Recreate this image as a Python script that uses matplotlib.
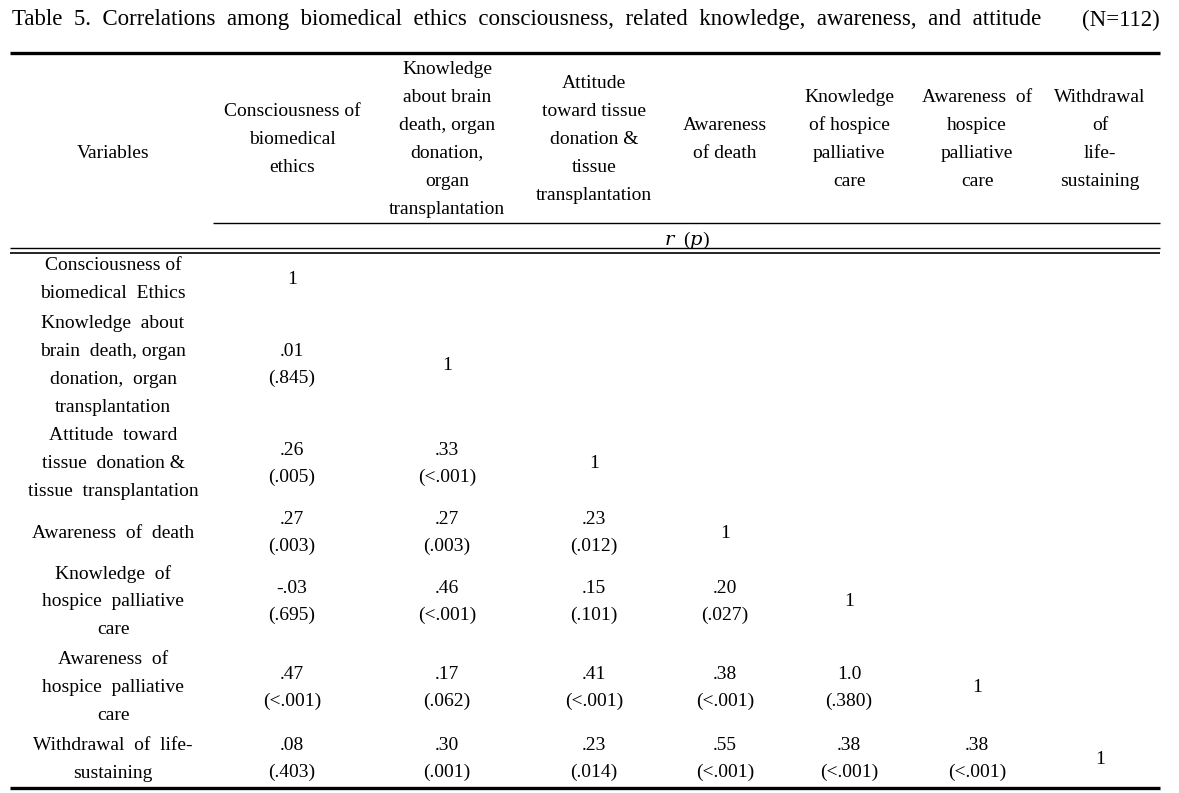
import matplotlib
matplotlib.use("Agg")
import matplotlib.pyplot as plt

plt.rcParams['font.family'] = ['Liberation Serif', 'DejaVu Serif']

title_words = ["Table", "5.", "Correlations", "among", "biomedical", "ethics", "consciousness,",
               "related", "knowledge,", "awareness,", "and", "attitude"]
title_n = "(N=112)"

col_headers = [
    ["Consciousness of", "biomedical", "ethics"],
    ["Knowledge", "about brain", "death, organ", "donation,", "organ", "transplantation"],
    ["Attitude", "toward tissue", "donation &", "tissue", "transplantation"],
    ["Awareness", "of death"],
    ["Knowledge", "of hospice", "palliative", "care"],
    ["Awareness  of", "hospice", "palliative", "care"],
    ["Withdrawal", "of", "life-", "sustaining"],
]

row_labels = [
    ["Consciousness of", "biomedical  Ethics"],
    ["Knowledge  about", "brain  death, organ", "donation,  organ", "transplantation"],
    ["Attitude  toward", "tissue  donation &", "tissue  transplantation"],
    ["Awareness  of  death"],
    ["Knowledge  of", "hospice  palliative", "care"],
    ["Awareness  of", "hospice  palliative", "care"],
    ["Withdrawal  of  life-", "sustaining"],
]

r_values = [
    [],
    [".01"],
    [".26", ".33"],
    [".27", ".27", ".23"],
    ["-.03", ".46", ".15", ".20"],
    [".47", ".17", ".41", ".38", "1.0"],
    [".08", ".30", ".23", ".55", ".38", ".38"],
]
p_values = [
    [],
    ["(.845)"],
    ["(.005)", "(<.001)"],
    ["(.003)", "(.003)", "(.012)"],
    ["(.695)", "(<.001)", "(.101)", "(.027)"],
    ["(<.001)", "(.062)", "(<.001)", "(<.001)", "(.380)"],
    ["(.403)", "(.001)", "(.014)", "(<.001)", "(<.001)", "(<.001)"],
]

W, H = 1179, 793
fig = plt.figure(figsize=(W / 100, H / 100), dpi=100)
ax = fig.add_axes([0, 0, 1, 1])
ax.set_xlim(0, W)
ax.set_ylim(H, 0)
ax.axis('off')

FS = 14
LH = 28

# layout
var_x = 113
col_x = [292, 447, 594, 725, 849, 977, 1100]
row_center = [280, 365, 464, 533, 602, 688, 759]
val_offset = 13.5

ax.text(12, 20, "  ".join(title_words), fontsize=16.5, ha='left', va='center')
ax.text(1160, 20, title_n, fontsize=16.5, ha='right', va='center')

# rules
ax.plot([10, 1160], [53, 53], color='black', lw=2.4, solid_capstyle='butt')
ax.plot([213, 1160], [223, 223], color='black', lw=1.0, solid_capstyle='butt')
ax.plot([10, 1160], [248, 248], color='black', lw=1.0, solid_capstyle='butt')
ax.plot([10, 1160], [252.5, 252.5], color='black', lw=1.2, solid_capstyle='butt')
ax.plot([10, 1160], [788, 788], color='black', lw=2.4, solid_capstyle='butt')

# header
ax.text(var_x, 153, "Variables", fontsize=FS, ha='center', va='center')
starts = {6: 69, 5: 83, 4: 97, 3: 111, 2: 125}
for x, lines in zip(col_x, col_headers):
    start = starts[len(lines)]
    for i, t in enumerate(lines):
        ax.text(x, start + i * LH, t, fontsize=FS, ha='center', va='center')

ax.text(687, 240, r"$\it{r}$  ($\it{p}$)", fontsize=FS, ha='center', va='center',
        math_fontfamily='dejavuserif')

# rows
for ri, (lab, rc) in enumerate(zip(row_labels, row_center)):
    n = len(lab)
    start = rc - (n - 1) * LH / 2
    if ri == 6:
        start = 745
    for i, t in enumerate(lab):
        ax.text(var_x, start + i * LH, t, fontsize=FS, ha='center', va='center')
    for ci, (rv, pv) in enumerate(zip(r_values[ri], p_values[ri])):
        ax.text(col_x[ci], rc - val_offset, rv, fontsize=FS, ha='center', va='center')
        ax.text(col_x[ci], rc + val_offset, pv, fontsize=FS, ha='center', va='center')
    ax.text(col_x[ri], rc, "1", fontsize=FS, ha='center', va='center')

fig.savefig("out.png", dpi=100)
